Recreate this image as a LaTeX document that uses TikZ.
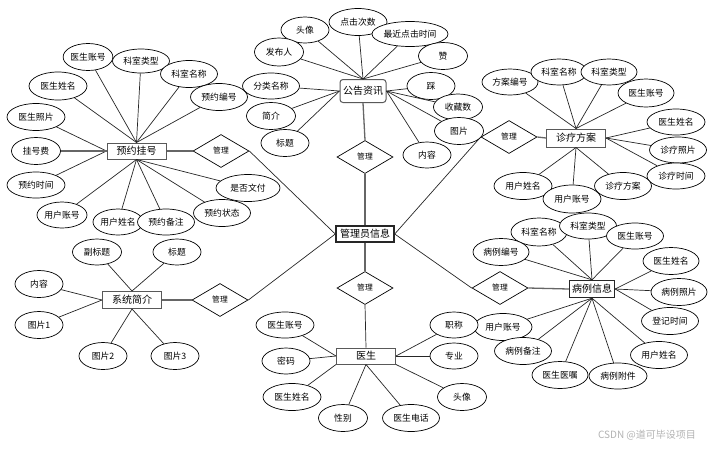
\documentclass[tikz,border=0pt]{standalone}
\usepackage{fontspec}
\newfontfamily\cjk{Noto Sans CJK SC}
\usetikzlibrary{shapes.geometric}
\begin{document}
\begin{tikzpicture}[x=1pt,y=-1pt,
  attr/.style={ellipse,draw=black,line width=0.7pt,fill=white,inner sep=0pt,font=\cjk\fontsize{8.8}{9}\selectfont},
  ent/.style={rectangle,draw=black!65,line width=1pt,fill=white,inner sep=0pt,font=\cjk\fontsize{10}{11}\selectfont},
  entb/.style={ent,draw=black!85,line width=1.4pt},
  rel/.style={diamond,draw=black,line width=0.7pt,fill=white,inner sep=0pt,minimum width=56pt,minimum height=33pt,font=\cjk\fontsize{7.8}{8}\selectfont},
  link/.style={draw=black!85,line width=0.7pt},
  tlink/.style={draw=black!60,line width=1.3pt}]
\useasboundingbox (0,0) rectangle (722,448);

% entities
\node[ent,minimum width=59pt,minimum height=16pt] (e1) at (136.5,151) {预约挂号};
\node[ent,rounded corners=3pt,minimum width=46pt,minimum height=23pt] (e2) at (363,91) {公告资讯};
\node[ent,minimum width=59pt,minimum height=18pt] (e3) at (576,138) {诊疗方案};
\node[entb,minimum width=58pt,minimum height=16pt] (e4) at (365,234) {管理员信息};
\node[ent,minimum width=59pt,minimum height=17pt] (e5) at (132,300) {系统简介};
\node[ent,minimum width=59pt,minimum height=16pt] (e6) at (366,356) {医生};
\node[entb,minimum width=45pt,minimum height=17pt] (e7) at (592,289) {病例信息};

% relationships
\node[rel] (d1) at (221,151) {管理};
\node[rel] (d2) at (365,157) {管理};
\node[rel] (d3) at (509,137) {管理};
\node[rel] (d4) at (220,300) {管理};
\node[rel] (d5) at (365,288) {管理};
\node[rel] (d6) at (500,288) {管理};

\draw[tlink] (e1.east) -- (d1.west);
\draw[link] (d1.east) -- (e4.west);
\draw[tlink] (e2.south) -- (d2.north);
\draw[tlink] (d2.south) -- (e4.north);
\draw[link] (d3.west) -- (e4.east);
\draw[tlink] (d3.east) -- (e3.west);
\draw[tlink] (e5.east) -- (d4.west);
\draw[link] (d4.east) -- (e4.west);
\draw[tlink] (e4.south) -- (d5.north);
\draw[link] (d5.south) -- (e6.north);
\draw[link] (e4.east) -- (d6.west);
\draw[tlink] (d6.east) -- (e7.west);

% 预约挂号 attributes
\node[attr,minimum width=49pt,minimum height=27pt] (a11) at (88,57) {医生账号};
\node[attr,minimum width=57pt,minimum height=24pt] (a12) at (141,61) {科室类型};
\node[attr,minimum width=57pt,minimum height=27pt] (a13) at (189,74) {科室名称};
\node[attr,minimum width=57pt,minimum height=27pt] (a14) at (219,97) {预约编号};
\node[attr,minimum width=58pt,minimum height=28pt] (a15) at (58,86) {医生姓名};
\node[attr,minimum width=58pt,minimum height=27pt] (a16) at (36,117) {医生照片};
\node[attr,minimum width=49pt,minimum height=27pt] (a17) at (36,151) {挂号费};
\node[attr,minimum width=58pt,minimum height=26pt] (a18) at (36,185) {预约时间};
\node[attr,minimum width=50pt,minimum height=26pt] (a19) at (62,215) {用户账号};
\node[attr,minimum width=50pt,minimum height=26pt] (a110) at (118,222) {用户姓名};
\node[attr,minimum width=57pt,minimum height=26pt] (a111) at (166,222) {预约备注};
\node[attr,minimum width=57pt,minimum height=27pt] (a112) at (222,213) {预约状态};
\node[attr,minimum width=64pt,minimum height=27pt] (a113) at (248,188) {是否文付};
\foreach \a in {a11,a12,a13,a14,a15} \draw[link] (\a) -- (e1.north);
\foreach \a in {a16,a18} \draw[link] (\a) -- (e1.west);
\draw[tlink] (a17) -- (e1.west);
\foreach \a in {a19,a110,a111,a112,a113} \draw[link] (\a) -- (e1.south);

% 公告资讯 attributes
\node[attr,minimum width=48pt,minimum height=26pt] (a21) at (305,30) {头像};
\node[attr,minimum width=58pt,minimum height=27pt] (a22) at (358,22) {点击次数};
\node[attr,minimum width=76pt,minimum height=25pt] (a23) at (410,34) {最近点击时间};
\node[attr,minimum width=49pt,minimum height=28pt] (a24) at (279,52) {发布人};
\node[attr,minimum width=49pt,minimum height=27pt] (a25) at (443,56) {赞};
\node[attr,minimum width=57pt,minimum height=26pt] (a26) at (271,86) {分类名称};
\node[attr,minimum width=48pt,minimum height=27pt] (a27) at (431,86) {踩};
\node[attr,minimum width=49pt,minimum height=26pt] (a28) at (458,107) {收藏数};
\node[attr,minimum width=49pt,minimum height=27pt] (a29) at (271,116) {简介};
\node[attr,minimum width=49pt,minimum height=27pt] (a210) at (459,131) {图片};
\node[attr,minimum width=48pt,minimum height=27pt] (a211) at (285,143) {标题};
\node[attr,minimum width=48pt,minimum height=26pt] (a212) at (427,155) {内容};
\foreach \a in {a21,a22,a23,a24,a25} \draw[link] (\a) -- (e2.north);
\foreach \a in {a26,a29,a211} \draw[link] (\a) -- (e2.west);
\foreach \a in {a27,a28,a210,a212} \draw[link] (\a) -- (e2.east);

% 诊疗方案 attributes
\node[attr,minimum width=56pt,minimum height=26pt] (a31) at (510,82) {方案编号};
\node[attr,minimum width=56pt,minimum height=26pt] (a32) at (559,72) {科室名称};
\node[attr,minimum width=56pt,minimum height=26pt] (a33) at (609,72) {科室类型};
\node[attr,minimum width=56pt,minimum height=28pt] (a34) at (646,93) {医生账号};
\node[attr,minimum width=58pt,minimum height=26pt] (a35) at (676,122) {医生姓名};
\node[attr,minimum width=57pt,minimum height=26pt] (a36) at (678,150) {诊疗照片};
\node[attr,minimum width=58pt,minimum height=26pt] (a37) at (676,176) {诊疗时间};
\node[attr,minimum width=58pt,minimum height=27pt] (a38) at (523,186) {用户姓名};
\node[attr,minimum width=57pt,minimum height=27pt] (a310) at (623,186) {诊疗方案};
\node[attr,minimum width=58pt,minimum height=28pt] (a39) at (572,199) {用户账号};
\foreach \a in {a31,a32,a33,a34} \draw[link] (\a) -- (e3.north);
\foreach \a in {a35,a36,a37} \draw[link] (\a) -- (e3.east);
\foreach \a in {a38,a39,a310} \draw[link] (\a) -- (e3.south);

% 病例信息 attributes
\node[attr,minimum width=56pt,minimum height=28pt] (a71) at (539,232) {科室名称};
\node[attr,minimum width=57pt,minimum height=26pt] (a72) at (588,226) {科室类型};
\node[attr,minimum width=57pt,minimum height=26pt] (a73) at (635,236) {医生账号};
\node[attr,minimum width=56pt,minimum height=27pt] (a74) at (501,252) {病例编号};
\node[attr,minimum width=56pt,minimum height=27pt] (a75) at (671,261) {医生姓名};
\node[attr,minimum width=56pt,minimum height=27pt] (a76) at (679,292) {病例照片};
\node[attr,minimum width=57pt,minimum height=27pt] (a77) at (670,321) {登记时间};
\node[attr,minimum width=58pt,minimum height=27pt] (a78) at (503,327) {用户账号};
\node[attr,minimum width=57pt,minimum height=27pt] (a79) at (523,351) {病例备注};
\node[attr,minimum width=57pt,minimum height=27pt] (a710) at (659,355) {用户姓名};
\node[attr,minimum width=56pt,minimum height=27pt] (a711) at (560,375) {医生医嘱};
\node[attr,minimum width=58pt,minimum height=26pt] (a712) at (618,376) {病例附件};
\foreach \a in {a71,a72,a73,a74} \draw[link] (\a) -- (e7.north);
\foreach \a in {a75,a76,a77} \draw[link] (\a) -- (e7.east);
\foreach \a in {a78,a79,a710,a711,a712} \draw[link] (\a) -- (e7.south);

% 系统简介 attributes
\node[attr,minimum width=49pt,minimum height=26pt] (a51) at (97,252) {副标题};
\node[attr,minimum width=48pt,minimum height=26pt] (a52) at (177,252) {标题};
\node[attr,minimum width=48pt,minimum height=27pt] (a53) at (39,284) {内容};
\node[attr,minimum width=48pt,minimum height=27pt] (a54) at (39,325) {图片1};
\node[attr,minimum width=48pt,minimum height=27pt] (a55) at (103,356) {图片2};
\node[attr,minimum width=48pt,minimum height=27pt] (a56) at (175,356) {图片3};
\foreach \a in {a51,a52} \draw[link] (\a) -- (e5.north);
\foreach \a in {a53,a54} \draw[link] (\a) -- (e5.west);
\foreach \a in {a55,a56} \draw[link] (\a) -- (e5.south);

% 医生 attributes
\node[attr,minimum width=58pt,minimum height=26pt] (a61) at (285,325) {医生账号};
\node[attr,minimum width=48pt,minimum height=26pt] (a62) at (286,361) {密码};
\node[attr,minimum width=58pt,minimum height=27pt] (a63) at (292,397) {医生姓名};
\node[attr,minimum width=49pt,minimum height=27pt] (a64) at (343,418) {性别};
\node[attr,minimum width=57pt,minimum height=27pt] (a65) at (411,418) {医生电话};
\node[attr,minimum width=49pt,minimum height=27pt] (a66) at (462,397) {头像};
\node[attr,minimum width=48pt,minimum height=26pt] (a67) at (454,325) {职称};
\node[attr,minimum width=48pt,minimum height=26pt] (a68) at (454,356) {专业};
\foreach \a in {a61,a62} \draw[link] (\a) -- (e6.west);
\draw[link] (a63) -- (e6.south west);
\foreach \a in {a64,a65} \draw[link] (\a) -- (e6.south);
\draw[link] (a66) -- (e6.south east);
\foreach \a in {a67,a68} \draw[link] (\a) -- (e6.east);

% watermark
\node[font=\cjk\fontsize{10}{11}\selectfont,text=black!30,inner sep=0pt] (wm) at (647,435) {CSDN @道可毕设项目};
\end{tikzpicture}
\end{document}
